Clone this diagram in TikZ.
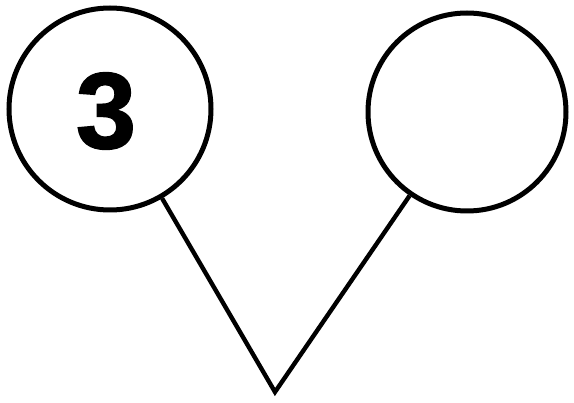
\documentclass[tikz,border=0pt]{standalone}
\usepackage{fontspec}
\setmainfont{Liberation Sans}
\newfontfamily\heavyfont[FakeBold=1.6]{Liberation Sans Bold}
\usepackage{tikz}
\usetikzlibrary{positioning,calc}

\tikzset{
  ring/.style={draw, circle, line width=5pt, inner sep=0pt},
  stem/.style={line width=4.4pt, line join=miter}
}

\begin{document}
\begin{tikzpicture}[x=1pt, y=-1pt]
        \useasboundingbox (0,0) rectangle (574,403);
        % Circles
        \node[ring, minimum size=202pt] (left) at (110,109) {};
        \node[ring, minimum size=198pt] (right) at (467,112) {};
        \node[font=\heavyfont\fontsize{108}{108}\selectfont] (three) at (106,111) {3};
        % Vertex
        \coordinate (tip) at (275,392);
        \draw[stem] (left) -- (tip) -- (right);
    \end{tikzpicture}
\end{document}
